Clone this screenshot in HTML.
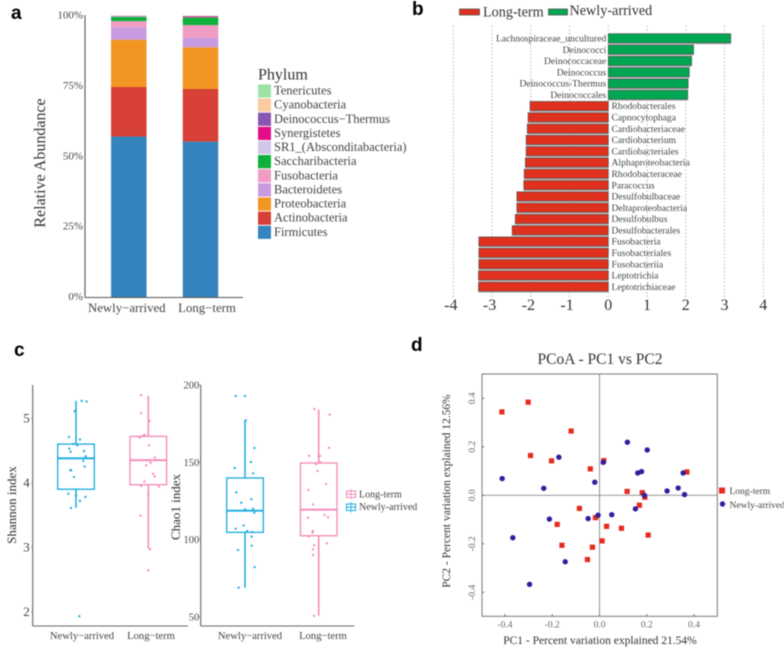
<!DOCTYPE html>
<html lang="en">
<head>
<meta charset="utf-8">
<title>Microbiome composition figure</title>
<style>
  html, body { margin: 0; padding: 0; background: #fff; }
  #figure { display: block; width: 784px; height: 648px; filter: blur(0.45px); font-family: "Liberation Serif", serif; }
  .panel-letter { font-family: "Liberation Sans", sans-serif; font-weight: bold; font-size: 19px; fill: #000; }
</style>
</head>
<body>
<svg id="figure" xmlns="http://www.w3.org/2000/svg" width="784" height="648" viewBox="0 0 784 648">
  <rect x="0" y="0" width="784" height="648" fill="#fff"/>
  <text class="panel-letter" x="11" y="19">a</text>
  <text class="panel-letter" x="412" y="15">b</text>
  <text class="panel-letter" x="14" y="356">c</text>
  <text class="panel-letter" x="411" y="351">d</text>

  <g id="panel-a">
    <text x="40" y="163" transform="rotate(-90 40 163)" dy="5" text-anchor="middle" font-size="16" fill="#333">Relative Abundance</text>
    <text x="258" y="79.5" font-size="16" fill="#333">Phylum</text>
  </g>
  <g id="panel-b">
    <rect x="459.5" y="9" width="20" height="6" fill="#E0301E" stroke="#555" stroke-width="0.8"/>
    <text x="483" y="16.5" font-size="14.2" fill="#333">Long-term</text>
    <rect x="548.5" y="9" width="19" height="6" fill="#00A651" stroke="#555" stroke-width="0.8"/>
    <text x="569.5" y="15" font-size="14.2" fill="#333">Newly-arrived</text>
  </g>
  <g id="panel-c">
    <text x="12" y="505" dy="4" transform="rotate(-90 12 505)" text-anchor="middle" font-size="13" fill="#333">Shannon index</text>
    <text x="176" y="507" dy="4" transform="rotate(-90 176 507)" text-anchor="middle" font-size="13" fill="#333">Chao1 index</text>
    <g>
      <rect x="346.5" y="491" width="9" height="6.5" fill="none" stroke="#F587B8" stroke-width="1"/>
      <line x1="346.5" x2="355.5" y1="494.2" y2="494.2" stroke="#F587B8" stroke-width="1"/>
      <line x1="351" x2="351" y1="489" y2="499.5" stroke="#F587B8" stroke-width="0.8"/>
      <text x="359" y="497.5" font-size="10" fill="#444">Long-term</text>
      <rect x="346.5" y="504" width="9" height="6.5" fill="none" stroke="#18ACDF" stroke-width="1"/>
      <line x1="346.5" x2="355.5" y1="507.2" y2="507.2" stroke="#18ACDF" stroke-width="1"/>
      <line x1="351" x2="351" y1="502" y2="512.5" stroke="#18ACDF" stroke-width="0.8"/>
      <text x="359" y="510" font-size="10" fill="#444">Newly-arrived</text>
    </g>
  </g>
  <g id="panel-d">
    <text x="600" y="364" text-anchor="middle" font-size="15.5" fill="#333">PCoA - PC1 vs PC2</text>
    <text x="600" y="644" text-anchor="middle" font-size="11.5" fill="#333">PC1 - Percent variation explained 21.54%</text>
    <text x="446" y="491" dy="4" transform="rotate(-90 446 491)" text-anchor="middle" font-size="11.5" fill="#333">PC2 - Percent variation explained 12.56%</text>
    <rect x="482" y="374" width="235.3" height="242.3" fill="none" stroke="#777" stroke-width="1"/>
    <rect x="719" y="487.5" width="6" height="6" fill="#E62A1E"/>
    <text x="729.5" y="494" font-size="9.5" fill="#444">Long-term</text>
    <circle cx="722.5" cy="504" r="2.7" fill="#2E1F9E"/>
    <text x="729.5" y="508" font-size="9.5" fill="#444">Newly-arrived</text>
  </g>
</svg>

<script>
// ---------- Panel a: stacked composition ----------
const stackGroups = ["Newly−arrived", "Long−term"];
const stackTicks = [0, 25, 50, 75, 100];
const stackPhyla = ["Firmicutes", "Actinobacteria", "Proteobacteria", "Bacteroidetes", "Fusobacteria", "Saccharibacteria", "SR1_(Absconditabacteria)", "Synergistetes", "Deinococcus−Thermus", "Cyanobacteria", "Tenericutes"];
const stackColors = ["#3584BE", "#D64036", "#F29522", "#C89AE0", "#F09CC4", "#0FAF3C", "#CFC6E8", "#E30E87", "#8856B0", "#FCCBA0", "#9DE3A5"];
const newlyAbundance = [57, 17.6, 16.8, 4.4, 2.2, 1.5, 0.2, 0.1, 0.1, 0.05, 0.05];
const longAbundance = [55.2, 18.7, 14.8, 3.4, 4.5, 2.7, 0.1, 0.35, 0.05, 0.05, 0.05];

// ---------- Panel b: LDA scores ----------
const ldaTaxa = ["Lachnospiraceae_uncultured", "Deinococci", "Deinococcaceae", "Deinococcus", "Deinococcus-Thermus", "Deinococcales", "Rhodobacterales", "Capnocytophaga", "Cardiobacteriaceae", "Cardiobacterium", "Cardiobacteriales", "Alphaproteobacteria", "Rhodobacteraceae", "Paracoccus", "Desulfobulbaceae", "Deltaproteobacteria", "Desulfobulbus", "Desulfobacterales", "Fusobacteria", "Fusobacteriales", "Fusobacteriia", "Leptotrichia", "Leptotrichiaceae"];
const ldaScores = [3.16, 2.2, 2.15, 2.09, 2.06, 2.05, -2.02, -2.07, -2.09, -2.12, -2.12, -2.14, -2.17, -2.18, -2.36, -2.36, -2.4, -2.48, -3.34, -3.34, -3.34, -3.35, -3.35];
const ldaTicks = [-4, -3, -2, -1, 0, 1, 2, 3, 4];

// ---------- Panel c: box plots ----------
const boxGroups = ["Newly−arrived", "Long−term"];
const shannonTicks = [2, 3, 4, 5];
const chaoTicks = [50, 100, 150, 200];
// whisker low, q1, median, q3, whisker high
const shannonNewlyBox = [3.61, 3.9, 4.38, 4.6, 5.27];
const shannonLongBox = [2.98, 3.97, 4.35, 4.72, 5.35];
const chaoNewlyBox = [68.8, 104.6, 118.6, 139.8, 177.3];
const chaoLongBox = [50.6, 102.4, 119.3, 149.5, 184.2];
const shannonNewlyValues = [3.61, 3.72, 3.78, 3.8, 3.83, 4.25, 4.34, 4.41, 4.49, 4.48, 4.53, 4.58, 4.6, 4.67, 4.71, 5.11, 5.27, 5.26, 4.2, 4.19, 4.09, 1.93];
const shannonNewlyJitter = [-0.07, 0.055, 0.13, 0, -0.106, 0.12, 0.1, 0.134, 0.11, -0.074, -0.092, 0.018, -0.037, 0.055, -0.097, -0.018, 0.078, 0.147, -0.078, -0.065, -0.028, 0.046];
const shannonLongValues = [5.36, 5.08, 4.96, 4.7, 4.73, 4.74, 4.58, 4.39, 4.31, 4.27, 4.14, 4.1, 4.02, 3.95, 3.94, 3.81, 3.49, 2.97, 2.64];
const shannonLongJitter = [-0.1, -0.1, 0.018, -0.12, -0.07, -0.05, 0.01, 0.09, 0.03, -0.03, 0.065, 0.088, -0.055, -0.1, 0.147, 0, -0.106, 0.023, 0];
const chaoNewlyValues = [192.9, 192.9, 177.1, 159.2, 150.1, 146.3, 142.8, 130.5, 126, 123.8, 119.9, 119.5, 117.3, 109.1, 107, 105.5, 104.8, 101.8, 96, 93.2, 82.1, 68.8];
const chaoNewlyJitter = [-0.127, 0, 0.01, 0.127, 0.08, -0.14, 0.11, -0.118, 0.086, -0.05, 0.11, 0, 0.127, -0.018, -0.127, 0.03, 0.095, 0.09, 0.09, -0.095, 0.13, -0.086];
const chaoLongValues = [184.5, 180.8, 159.4, 154.2, 154, 148.8, 149.9, 144.3, 135.9, 132, 122.7, 115.8, 114.3, 114.1, 105.5, 104.4, 102, 97.5, 96.2, 93.6, 89.9, 50.6];
const chaoLongJitter = [-0.06, 0.15, 0.14, -0.13, 0.018, -0.036, 0.027, -0.014, 0.1, -0.14, -0.077, 0.08, 0.127, -0.145, -0.077, -0.086, -0.136, 0.11, -0.063, -0.08, -0.077, -0.063];

// ---------- Panel d: PCoA ----------
const pcoaTicks = [-0.4, -0.2, 0, 0.2, 0.4];
const pcoaTickLabels = ["-0.4", "-0.2", "0.0", "0.2", "0.4"];
const longPC1 = [-0.413, -0.302, -0.12, -0.292, -0.203, 0.018, -0.039, 0.117, 0.181, 0.37, 0.192, 0.169, -0.085, -0.017, -0.179, 0.03, 0.093, 0.206, 0.011, -0.159, -0.03, -0.051];
const longPC2 = [0.344, 0.384, 0.265, 0.164, 0.142, 0.143, 0.109, 0.016, 0.011, 0.096, -0.008, -0.041, -0.054, -0.092, -0.12, -0.128, -0.136, -0.164, -0.188, -0.206, -0.214, -0.265];
const newlyPC1 = [-0.412, -0.236, -0.172, 0.016, -0.02, 0.118, 0.202, 0.162, 0.178, 0.354, 0.286, 0.333, 0.36, 0.19, 0.152, 0.052, -0.006, -0.048, -0.212, -0.367, -0.145, -0.296];
const newlyPC2 = [0.069, 0.029, 0.157, 0.136, 0.054, 0.219, 0.187, 0.092, 0.098, 0.092, 0.018, 0.03, 0.003, 0, -0.056, -0.08, -0.082, -0.096, -0.098, -0.175, -0.274, -0.367];

const NS = "http://www.w3.org/2000/svg";
function mk(tag, attrs, parent) {
  const el = document.createElementNS(NS, tag);
  for (const k in attrs) el.setAttribute(k, attrs[k]);
  parent.appendChild(el);
  return el;
}
function label(attrs, str, parent) {
  const el = mk("text", attrs, parent);
  el.textContent = str;
  return el;
}
function scale(d0, d1, r0, r1) {
  return v => r0 + (v - d0) / (d1 - d0) * (r1 - r0);
}

// ----- Panel a drawing -----
(function () {
  const g = document.getElementById("panel-a");
  const y = scale(0, 100, 297, 15.5);
  const barCenters = scale(0, 1, 128.8, 200.5);
  const bw = 35.5;
  [newlyAbundance, longAbundance].forEach((vals, gi) => {
    let c = 0;
    vals.forEach((v, i) => {
      const seg = mk("rect", { x: barCenters(gi) - bw / 2, y: y(c + v), width: bw, height: Math.max(0, y(c) - y(c + v)), fill: stackColors[i] }, g);
      
      
      c += v;
    });
    const cat = label({ x: barCenters(gi) - 2 + gi * 8.5, y: 312, "text-anchor": "middle", "font-size": 12.8, fill: "#444" }, stackGroups[gi], g);
    
    
  });
  const yAxis = mk("line", { x1: 85, x2: 85, y1: 15, y2: 297.5, stroke: "#555", "stroke-width": 1.1 }, g);
  
  
  const xAxis = mk("line", { x1: 85, x2: 243, y1: 297.5, y2: 297.5, stroke: "#555", "stroke-width": 1.1 }, g);
  
  
  stackTicks.forEach(t => {
    const tl = label({ x: 83, y: y(t) + 3, "text-anchor": "end", "font-size": 11, fill: "#444" }, t + "%", g);
    
    
  });
  const rowY = scale(0, 10, 232.3, 91);
  stackPhyla.forEach((name, i) => {
    const sw = mk("rect", { x: 258, y: rowY(i) - 6.6, width: 13, height: 13.2, fill: stackColors[i] }, g);
    
    
    const lb = label({ x: 274, y: rowY(i) + 3.5, "font-size": 12.5, fill: "#444" }, name, g);
    
    
  });
})();

// ----- Panel b drawing -----
(function () {
  const g = document.getElementById("panel-b");
  const x = scale(-4, 4, 453.3, 763.3);
  const y = scale(0, ldaTaxa.length - 1, 38.3, 286.7);
  ldaTicks.forEach(t => {
    const gl = mk("line", { x1: x(t), x2: x(t), y1: 26, y2: 297, stroke: "#999", "stroke-width": 0.7, "stroke-dasharray": "1.5 2" }, g);
    
    
    const tl = label({ x: x(t) - (t < 0 ? 2.5 : 0), y: 310, "text-anchor": "middle", "font-size": 16, fill: "#333" }, String(t), g);
    
    
  });
  ldaScores.forEach((v, i) => {
    const pos = v > 0;
    const shadow = mk("rect", { x: Math.min(x(0), x(v)), y: y(i) - 4, width: Math.abs(x(v) - x(0)), height: 10, fill: "#bbb" }, g);
    
    
    const bar = mk("rect", { x: Math.min(x(0), x(v)), y: y(i) - 4.6, width: Math.abs(x(v) - x(0)), height: 9.2, fill: pos ? "#00A651" : "#E0301E", stroke: "#555", "stroke-width": 0.7 }, g);
    
    
    const lb = label({ x: pos ? x(0) - 2 : x(0) + 3.2, y: y(i) + 3.2, "text-anchor": pos ? "end" : "start", "font-size": 9.6, fill: "#444" }, ldaTaxa[i], g);
    
    
  });
})();

// ----- Panel c drawing -----
(function () {
  const g = document.getElementById("panel-c");
  const blue = "#18ACDF", pink = "#F587B8";
  function boxPanel(o) {
    const yAxis = mk("line", { x1: o.axisX, x2: o.axisX, y1: 385, y2: 626, stroke: "#666", "stroke-width": 1.1 }, g);
    
    
    const xAxis = mk("line", { x1: o.axisX, x2: o.axisEnd, y1: 626, y2: 626, stroke: "#666", "stroke-width": 1.1 }, g);
    
    
    o.ticks.forEach(t => {
      const tl = label({ x: o.axisX - o.tickGap, y: o.y(t) + o.tickSize * 0.34, "text-anchor": "end", "font-size": o.tickSize, fill: "#444" }, String(t), g);
      
      
      const tm = mk("line", { x1: o.axisX - 1.5, x2: o.axisX, y1: o.y(t), y2: o.y(t), stroke: "#777", "stroke-width": 0.8 }, g);
      
      
    });
    o.series.forEach((s, i) => {
      const cx = o.centers[i], col = s.color, b = s.box, y = o.y, hw = 18.3;
      const wTop = mk("line", { x1: cx, x2: cx, y1: y(b[4]), y2: y(b[3]), stroke: col, "stroke-width": 1.5 }, g);
      
      
      const wBot = mk("line", { x1: cx, x2: cx, y1: y(b[1]), y2: y(b[0]), stroke: col, "stroke-width": 1.5 }, g);
      
      
      const rect = mk("rect", { x: cx - hw, y: y(b[3]), width: hw * 2, height: y(b[1]) - y(b[3]), fill: "none", stroke: col, "stroke-width": 1.3 }, g);
      
      
      const med = mk("line", { x1: cx - hw, x2: cx + hw, y1: y(b[2]), y2: y(b[2]), stroke: col, "stroke-width": 1.9 }, g);
      
      
      s.values.forEach((v, j) => {
        const pt = mk("circle", { cx: cx + s.jitter[j] * o.spacing, cy: y(v), r: 1.15, fill: col }, g);
        
        
      });
      const cat = label({ x: o.labelX[i], y: 639, "text-anchor": "middle", "font-size": 10.6, fill: "#444" }, boxGroups[i], g);
      
      
    });
  }
  boxPanel({
    name: "shannon", axisX: 32.7, axisEnd: 188, ticks: shannonTicks, tickGap: 3, tickSize: 13,
    y: scale(2, 5, 611.7, 418.3), centers: [76, 148.3], spacing: 72.3, labelX: [82, 151],
    series: [
      { color: blue, box: shannonNewlyBox, values: shannonNewlyValues, jitter: shannonNewlyJitter },
      { color: pink, box: shannonLongBox, values: shannonLongValues, jitter: shannonLongJitter }
    ]
  });
  boxPanel({
    name: "chao1", axisX: 200.7, axisEnd: 354.3, ticks: chaoTicks, tickGap: 1.5, tickSize: 10.5,
    y: scale(50, 200, 616.7, 385), centers: [245, 318.7], spacing: 73.7, labelX: [250, 323],
    series: [
      { color: blue, box: chaoNewlyBox, values: chaoNewlyValues, jitter: chaoNewlyJitter },
      { color: pink, box: chaoLongBox, values: chaoLongValues, jitter: chaoLongJitter }
    ]
  });
})();

// ----- Panel d drawing -----
(function () {
  const g = document.getElementById("panel-d");
  const x = scale(-0.4, 0.4, 505, 694);
  const y = scale(-0.4, 0.4, 592.3, 398.3);
  const hz = mk("line", { x1: 482, x2: 717.3, y1: y(0), y2: y(0), stroke: "#888", "stroke-width": 0.9 }, g);
  
  
  const vt = mk("line", { x1: x(0), x2: x(0), y1: 374, y2: 616.3, stroke: "#888", "stroke-width": 0.9 }, g);
  
  
  pcoaTicks.forEach((t, i) => {
    const xt = mk("line", { x1: x(t), x2: x(t), y1: 614, y2: 616.3, stroke: "#666", "stroke-width": 0.9 }, g);
    
    
    const yt = mk("line", { x1: 482, x2: 484.3, y1: y(t), y2: y(t), stroke: "#666", "stroke-width": 0.9 }, g);
    
    
    const xl = label({ x: x(t), y: 627.5, "text-anchor": "middle", "font-size": 9.5, fill: "#666" }, pcoaTickLabels[i], g);
    
    
    const yl = label({ x: 472, y: y(t), dy: 3, transform: "rotate(-90 472 " + y(t) + ")", "text-anchor": "middle", "font-size": 9.5, fill: "#666" }, pcoaTickLabels[i], g);
    
    
  });
  longPC1.forEach((v, i) => {
    const m = mk("rect", { x: x(v) - 2.6, y: y(longPC2[i]) - 2.6, width: 5.2, height: 5.2, fill: "#E62A1E" }, g);
    
    
  });
  newlyPC1.forEach((v, i) => {
    const m = mk("circle", { cx: x(v), cy: y(newlyPC2[i]), r: 2.7, fill: "#2E1F9E" }, g);
    
    
  });
})();
</script>
</body>
</html>
